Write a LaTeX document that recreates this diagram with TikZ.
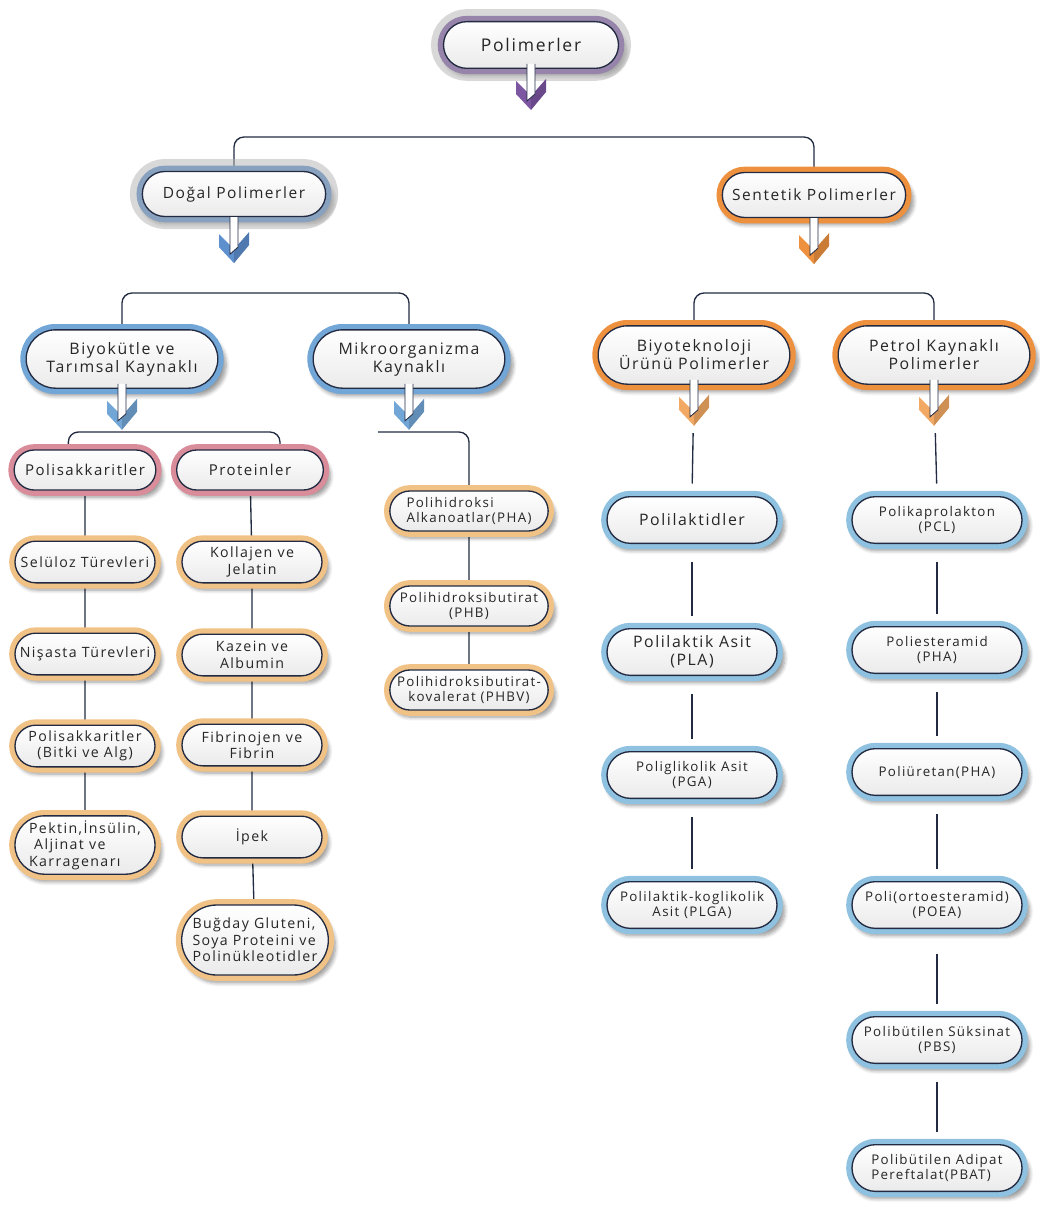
\documentclass[tikz,border=0pt]{standalone}
\usepackage{fontspec}
\setmainfont{Open Sans}[LetterSpace=10]
\usetikzlibrary{shapes.misc,shadows.blur,backgrounds}

% colours
\definecolor{navy}{HTML}{232B42}
\definecolor{purpleband}{HTML}{7D56A2}
\definecolor{blueband}{HTML}{5E90CE}
\definecolor{lightblue}{HTML}{72A6D6}
\definecolor{leafblue}{HTML}{8FC2E0}
\definecolor{orangeband}{HTML}{EE913F}
\definecolor{lightorange}{HTML}{F2A963}
\definecolor{tanband}{HTML}{F1C285}
\definecolor{pinkband}{HTML}{D98C9A}

\tikzset{
  pill/.style={rounded rectangle, draw=navy, line width=0.8pt,
    top color=white, bottom color=black!8, text=black!85,
    align=center, inner sep=2pt,
    blur shadow={shadow xshift=2pt, shadow yshift=-3.5pt, shadow opacity=40,
      shadow scale=1.05, shadow blur steps=6},
    preaction={draw=#1, line width=7pt}},
  halo/.style={preaction={draw=black!30, line width=15pt, opacity=0.5}},
  topbox/.style={pill=purpleband, minimum width=109pt, minimum height=28pt,
    font=\fontsize{10.5}{12}\selectfont},
  mainbox/.style={pill=#1, minimum width=114pt, minimum height=27pt,
    font=\fontsize{9.3}{11}\selectfont},
  groupbox/.style={pill=#1, minimum width=119pt, minimum height=35pt,
    font=\fontsize{9.5}{10.8}\selectfont},
  subbox/.style={pill=pinkband, minimum width=89pt, minimum height=24pt,
    font=\fontsize{9}{10.5}\selectfont},
  leafbox/.style={pill=tanband, minimum width=88pt, minimum height=25pt,
    font=\fontsize{8.5}{9.8}\selectfont},
  mikrobox/.style={pill=tanband, minimum width=99pt, minimum height=24pt,
    font=\fontsize{8}{9.4}\selectfont},
  bluebox/.style={pill=leafblue, minimum width=106pt, minimum height=28pt,
    font=\fontsize{8}{9.4}\selectfont},
  link/.style={navy, line width=0.8pt, rounded corners=6pt},
  gaplink/.style={navy, line width=0.8pt, shorten <=11pt, shorten >=7.5pt},
  pics/downarr/.style={code={
    % chevron head
    \fill[#1] (-15,12) -- (0,27) -- (0,41) -- (-15,25) -- cycle;
    \fill[#1!85!black] (15,10) -- (0,27) -- (0,41) -- (15,23) -- cycle;
    % hollow stem
    \draw[navy, line width=0.5pt, fill=white] (-4,-5) -- (-4,32) -- (4,25) -- (4,-5);
  }}
}

\begin{document}
\begin{tikzpicture}[x=0.6pt, y=-0.6pt]
    \useasboundingbox (0,0) rectangle (1039,1212);

    % Top of the tree
    \node[topbox, halo] (polimer) at (531,45) {Polimerler};
    \node[mainbox=blueband, halo] (dogal) at (234,194) {Doğal Polimerler};
    \node[mainbox=orangeband] (sentetik) at (814,195) {Sentetik Polimerler};

    % Source groups
    \node[groupbox=lightblue] (biyo) at (122,359) {Biyokütle ve\\Tarımsal Kaynaklı};
    \node[groupbox=lightblue] (mikro) at (409,359) {Mikroorganizma\\Kaynaklı};
    \node[groupbox=orangeband] (biyotek) at (694,355) {Biyoteknoloji\\Ürünü Polimerler};
    \node[groupbox=orangeband] (petrol) at (934,355) {Petrol Kaynaklı\\Polimerler};

    % Biyokütle branch
    \node[subbox] (polisak) at (85,470) {Polisakkaritler};
    \node[subbox, minimum width=92pt] (protein) at (250,470) {Proteinler};
    \node[leafbox] (seluloz) at (85,562) {Selüloz Türevleri};
    \node[leafbox] (nisasta) at (85,654) {Nişasta Türevleri};
    \node[leafbox] (bitki) at (85,746) {Polisakkaritler\\(Bitki ve Alg)};
    \node[leafbox, minimum height=35pt, align=left] (pektin) at (85,845)
        {Pektin,İnsülin,\\\ Aljinat ve\\Karragenarı};
    \node[leafbox] (kollajen) at (252,562) {Kollajen ve\\Jelatin};
    \node[leafbox] (kazein) at (252,655) {Kazein ve\\Albumin};
    \node[leafbox] (fibrin) at (252,745) {Fibrinojen ve\\Fibrin};
    \node[leafbox] (ipek) at (252,837) {İpek};
    \node[leafbox, minimum height=42pt, minimum width=92pt, align=left] (bugday) at (255,940)
        {Buğday Gluteni,\\Soya Proteini ve\\Polinükleotidler};

    % Mikroorganizma branch
    \node[mikrobox, align=left] (pha) at (469,511) {Polihidroksi\\Alkanoatlar(PHA)};
    \node[mikrobox] (phb) at (469,606) {Polihidroksibutirat\\(PHB)};
    \node[mikrobox] (phbv) at (469,690) {Polihidroksibutirat-\\kovalerat (PHBV)};

    % Biyoteknoloji branch
    \node[bluebox, font=\fontsize{9.5}{11}\selectfont] (polilak) at (692,520) {Polilaktidler};
    \node[bluebox, font=\fontsize{9.5}{11}\selectfont] (pla) at (692,652) {Polilaktik Asit\\(PLA)};
    \node[bluebox] (pga) at (692,775) {Poliglikolik Asit\\(PGA)};
    \node[bluebox] (plga) at (692,905) {Polilaktik-koglikolik\\Asit (PLGA)};

    % Petrol branch
    \node[bluebox] (pcl) at (937,520) {Polikaprolakton\\(PCL)};
    \node[bluebox] (pea) at (937,650) {Poliesteramid\\(PHA)};
    \node[bluebox] (pu) at (937,772) {Poliüretan(PHA)};
    \node[bluebox] (poea) at (937,905) {Poli(ortoesteramid)\\(POEA)};
    \node[bluebox] (pbs) at (937,1040) {Polibütilen Süksinat\\(PBS)};
    \node[bluebox, align=left] (pbat) at (937,1168) {Polibütilen Adipat\\Pereftalat(PBAT)};

    % Hollow arrows under the parent boxes
    \pic at (polimer.south) {downarr=purpleband};
    \pic at ([yshift=-3pt]dogal.south) {downarr=blueband};
    \pic at ([yshift=-3pt]sentetik.south) {downarr=orangeband};
    \pic at (biyo.south) {downarr=lightblue};
    \pic at (mikro.south) {downarr=lightblue};
    \pic at (biyotek.south) {downarr=lightorange};
    \pic at (petrol.south) {downarr=lightorange};

    % Junction points of the brackets
    \coordinate (rootjoin) at (535,137);
    \coordinate (dogaljoin) at (236,293);
    \coordinate (sentjoin) at (818,293);
    \coordinate (biyojoin) at (121,432);
    \coordinate (mikroend) at (378,432);

    % Connectors behind the boxes
    \begin{scope}[on background layer]
    \draw[link] (dogal.north) |- (rootjoin) -| (sentetik.north);
    \draw[link] (biyo.north) |- (dogaljoin) -| (mikro.north);
    \draw[link] (biyotek.north) |- (sentjoin) -| (petrol.north);
    \draw[link] ([xshift=-10pt]polisak.north) |- (biyojoin) -| ([xshift=18pt]protein.north);
    \draw[link] (mikroend) -| (pha.north);

    \draw[link] (polisak) -- (seluloz) -- (nisasta) -- (bitki) -- (pektin);
    \draw[link] (protein) -- (kollajen) -- (kazein) -- (fibrin) -- (ipek) -- (bugday);
    \draw[link] (pha) -- (phb) -- (phbv);

    % broken lines in the right columns
    \draw[gaplink, shorten <=29pt] (biyotek.south) -- (polilak.north);
    \draw[gaplink, shorten <=29pt] (petrol.south) -- (pcl.north);
    \draw[gaplink] (polilak.south) -- (pla.north);
    \draw[gaplink] (pla.south) -- (pga.north);
    \draw[gaplink] (pga.south) -- (plga.north);
    \draw[gaplink] (pcl.south) -- (pea.north);
    \draw[gaplink] (pea.south) -- (pu.north);
    \draw[gaplink] (pu.south) -- (poea.north);
    \draw[gaplink, shorten <=15pt] (poea.south) -- (pbs.north);
    \draw[gaplink] (pbs.south) -- (pbat.north);
    \end{scope}
\end{tikzpicture}
\end{document}
